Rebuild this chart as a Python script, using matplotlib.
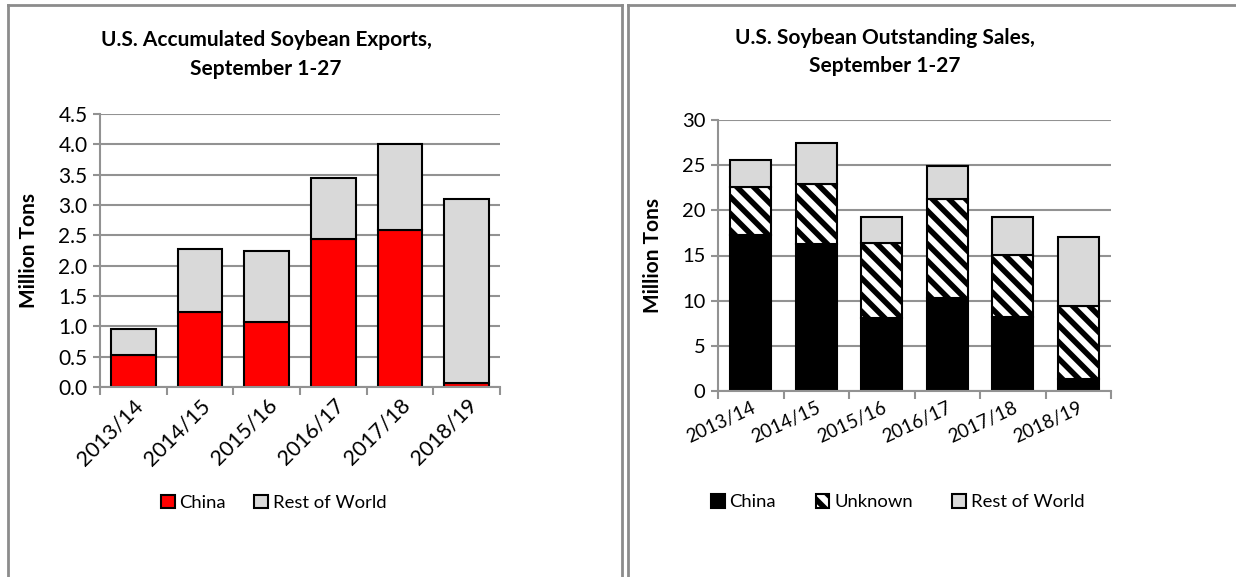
import numpy as np
import matplotlib
matplotlib.use("Agg")
import matplotlib.pyplot as plt
from matplotlib.lines import Line2D

plt.rcParams["font.family"] = ["Lato", "DejaVu Sans"]
plt.rcParams["hatch.linewidth"] = 4

years = ["2013/14", "2014/15", "2015/16", "2016/17", "2017/18", "2018/19"]

# left chart: accumulated exports (million tons)
exp_china = [0.53, 1.24, 1.07, 2.44, 2.59, 0.07]
exp_total = [0.96, 2.27, 2.25, 3.44, 4.00, 3.10]
exp_rest = [t - c for t, c in zip(exp_total, exp_china)]

# right chart: outstanding sales (million tons)
out_china = [17.3, 16.3, 8.1, 10.3, 8.2, 1.3]
out_unknown = [5.3, 6.6, 8.3, 10.9, 6.9, 8.1]
out_rest = [3.0, 4.5, 2.9, 3.7, 4.2, 7.7]

W, H = 1236, 577
fig = plt.figure(figsize=(W / 100, H / 100), dpi=100)

grid_col = "#929292"
red = "#ff0000"
light = "#d9d9d9"


def px_axes(x0, y0, x1, y1):
    return fig.add_axes([x0 / W, 1 - y1 / H, (x1 - x0) / W, (y1 - y0) / H])


def px_text(x, y, s, **kw):
    fig.text(x / W, 1 - y / H, s, ha="center", va="center", **kw)


def style_axes(ax, ymax, step, fmt, fs):
    x = np.arange(len(years))
    ax.set_xlim(-0.5, len(years) - 0.5)
    ax.set_ylim(0, ymax)
    ticks = np.arange(0, ymax + step / 2, step)
    ax.set_yticks(ticks)
    ax.set_yticklabels([fmt.format(v) for v in ticks], fontsize=fs)
    ax.yaxis.grid(True, color=grid_col, linewidth=1.5)
    ax.set_axisbelow(True)
    for s in ["top", "right"]:
        ax.spines[s].set_visible(False)
    for s in ["left", "bottom"]:
        ax.spines[s].set_color(grid_col)
        ax.spines[s].set_linewidth(1.5)
    ax.set_xticks(x)
    ax.set_xticks(np.arange(-0.5, len(years)), minor=True)
    ax.tick_params(axis="x", which="major", length=0, pad=6)
    ax.tick_params(axis="x", which="minor", length=6, width=1.5, color=grid_col)
    ax.tick_params(axis="y", length=5, width=1.5, color=grid_col, pad=4)
    return x


# ---- left chart
ax1 = px_axes(100, 114, 500, 387)
x = style_axes(ax1, 4.5, 0.5, "{:.1f}", 15)
bw = 0.67
ax1.bar(x, exp_china, bw, color=red, edgecolor="black", linewidth=1.5, label="China")
ax1.bar(x, exp_rest, bw, bottom=exp_china, color=light, edgecolor="black", linewidth=1.5,
        label="Rest of World")
ax1.set_xticklabels(years, rotation=45, ha="right", rotation_mode="anchor", fontsize=15.5)
ax1.set_ylabel("Million Tons", fontsize=15, fontweight="bold", labelpad=14)
px_text(266, 40, "U.S. Accumulated Soybean Exports,", fontsize=15, fontweight="bold")
px_text(266, 69, "September 1-27", fontsize=15, fontweight="bold")
ax1.legend(loc="center", bbox_to_anchor=(0.434, -0.425), ncol=2, frameon=False,
           fontsize=13.3, handlelength=0.75, handleheight=0.75, handletextpad=0.25,
           columnspacing=1.55)

# ---- right chart
ax2 = px_axes(718, 120, 1111, 391)
x = style_axes(ax2, 30, 5, "{:.0f}", 14.5)
bw = 0.63
b1 = np.array(out_china)
b2 = b1 + np.array(out_unknown)
ax2.bar(x, out_china, bw, color="black", edgecolor="black", linewidth=1.5, label="China")
ax2.bar(x, out_unknown, bw, bottom=b1, color="white", edgecolor="black", hatch="\\\\",
        linewidth=1.5, label="Unknown")
ax2.bar(x, out_rest, bw, bottom=b2, color=light, edgecolor="black", linewidth=1.5,
        label="Rest of World")
ax2.set_xticklabels(years, rotation=25, ha="right", rotation_mode="anchor", fontsize=13.5)
ax2.set_ylabel("Million Tons", fontsize=15, fontweight="bold", labelpad=14)
px_text(885, 38, "U.S. Soybean Outstanding Sales,", fontsize=15, fontweight="bold")
px_text(885, 66, "September 1-27", fontsize=15, fontweight="bold")
ax2.legend(loc="center", bbox_to_anchor=(0.457, -0.41), ncol=3, frameon=False,
           fontsize=13.3, handlelength=0.75, handleheight=0.75, handletextpad=0.25,
           columnspacing=2.15)

# panel borders
border = "#8c8c8c"
for xs, ys in [([8, 8], [5, H]), ([8, 622], [5, 5]), ([622, 622], [5, H]),
               ([628, 628], [5, H]), ([628, W], [5, 5])]:
    fig.add_artist(Line2D([v / W for v in xs], [1 - v / H for v in ys],
                          color=border, linewidth=2))

fig.savefig("out.png", dpi=100)
